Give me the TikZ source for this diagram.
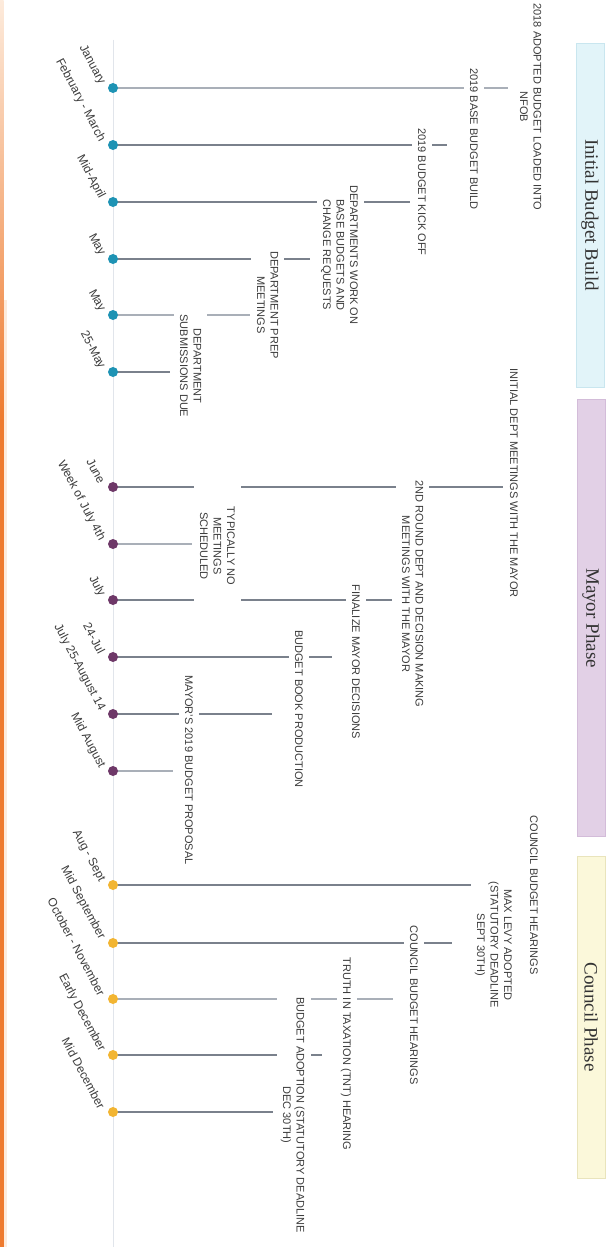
\documentclass[tikz,border=0pt]{standalone}
\usepackage{fontspec}
\setmainfont{Liberation Sans}
\newfontfamily\titlefont{Liberation Serif}
\usetikzlibrary{backgrounds}
\definecolor{teal1}{HTML}{1E93B4}
\definecolor{plum1}{HTML}{6E3868}
\definecolor{gold1}{HTML}{F2B532}
\definecolor{stemc}{HTML}{7A818C}
\definecolor{stemlt}{HTML}{A9AFB8}
\definecolor{txt}{HTML}{3C3C3C}
\definecolor{boxblue}{HTML}{E2F4F9}
\definecolor{boxblueb}{HTML}{C9E6EF}
\definecolor{boxplum}{HTML}{E2D0E6}
\definecolor{boxplumb}{HTML}{D3BCD9}
\definecolor{boxgold}{HTML}{FBF8DA}
\definecolor{boxgoldb}{HTML}{E9E4BC}
\definecolor{axisc}{HTML}{E1E5EB}
\definecolor{edgeor}{HTML}{EE7A2E}
\definecolor{edgepale}{HTML}{FDEBDC}
\begin{document}
\begin{tikzpicture}[x=1pt,y=-1pt,
  dot/.style={circle,inner sep=0pt,minimum size=10pt,fill=#1},
  date/.style={rotate=-62,anchor=east,inner sep=0pt,font=\fontsize{12}{14}\selectfont,text=txt},
  event/.style={rotate=-90,anchor=south,fill=white,align=center,inner xsep=4pt,inner ysep=6pt,text depth=0pt,font=\fontsize{11}{13.5}\selectfont,text=txt},
  stem/.style={draw=stemc,line width=1.4pt},
  stemlight/.style={draw=stemlt,line width=1.1pt},
  phasebox/.style={rotate=-90,font=\titlefont\fontsize{19}{22}\selectfont,text=black!80,minimum height=28pt,inner sep=0pt,line width=0.8pt}
]
\useasboundingbox (0,0) rectangle (613,1247);

% phase headers
\node[phasebox,fill=boxblue,draw=boxblueb,minimum width=344pt] (p1) at (590,215) {Initial Budget Build};
\node[phasebox,fill=boxplum,draw=boxplumb,minimum width=437pt] (p2) at (591,618) {Mayor Phase};
\node[phasebox,fill=boxgold,draw=boxgoldb,minimum width=322pt] (p3) at (591,1017) {Council Phase};

% left edge
\shade[top color=edgepale,bottom color=edgeor] (0,0) rectangle (3.5,420);
\fill[edgeor] (0,420) rectangle (3.5,1247);
\fill[edgepale] (3.5,300) rectangle (7,1247);

% dots
\node[dot=teal1] (d1) at (113,88) {};
\node[dot=teal1] (d2) at (113,145) {};
\node[dot=teal1] (d3) at (113,202) {};
\node[dot=teal1] (d4) at (113,259) {};
\node[dot=teal1] (d5) at (113,315) {};
\node[dot=teal1] (d6) at (113,372) {};
\node[dot=plum1] (d7) at (113,487) {};
\node[dot=plum1] (d8) at (113,544) {};
\node[dot=plum1] (d9) at (113,600) {};
\node[dot=plum1] (d10) at (113,657) {};
\node[dot=plum1] (d11) at (113,714) {};
\node[dot=plum1] (d12) at (113,771) {};
\node[dot=gold1] (d13) at (113,885) {};
\node[dot=gold1] (d14) at (113,943) {};
\node[dot=gold1] (d15) at (113,999) {};
\node[dot=gold1] (d16) at (113,1055) {};
\node[dot=gold1] (d17) at (113,1112) {};

% date labels
\node[date] (t1) at ([xshift=-11pt,yshift=4pt]d1.center) {January};
\node[date] (t2) at ([xshift=-11pt,yshift=4pt]d2.center) {February - March};
\node[date] (t3) at ([xshift=-11pt,yshift=4pt]d3.center) {Mid-April};
\node[date] (t4) at ([xshift=-11pt,yshift=4pt]d4.center) {May};
\node[date] (t5) at ([xshift=-11pt,yshift=4pt]d5.center) {May};
\node[date] (t6) at ([xshift=-11pt,yshift=4pt]d6.center) {25-May};
\node[date] (t7) at ([xshift=-11pt,yshift=4pt]d7.center) {June};
\node[date] (t8) at ([xshift=-11pt,yshift=4pt]d8.center) {Week of July 4th};
\node[date] (t9) at ([xshift=-11pt,yshift=4pt]d9.center) {July};
\node[date] (t10) at ([xshift=-11pt,yshift=4pt]d10.center) {24-Jul};
\node[date] (t11) at ([xshift=-11pt,yshift=4pt]d11.center) {July 25-August 14};
\node[date] (t12) at ([xshift=-11pt,yshift=4pt]d12.center) {Mid August};
\node[date] (t13) at ([xshift=-11pt,yshift=4pt]d13.center) {Aug - Sept};
\node[date] (t14) at ([xshift=-11pt,yshift=4pt]d14.center) {Mid September};
\node[date] (t15) at ([xshift=-11pt,yshift=4pt]d15.center) {October - November};
\node[date] (t16) at ([xshift=-11pt,yshift=4pt]d16.center) {Early December};
\node[date] (t17) at ([xshift=-11pt,yshift=4pt]d17.center) {Mid December};

% event labels
\node[event] (e1) at (514,107) {2018 ADOPTED BUDGET LOADED INTO\\NFOB};
\node[event] (e2) at (464,139) {2019 BASE BUDGET BUILD};
\node[event] (e3) at (412,192) {2019 BUDGET KICK OFF};
\node[event] (e4) at (317,255) {DEPARTMENTS WORK ON\\BASE BUDGETS AND\\CHANGE REQUESTS};
\node[event] (e5) at (251,305) {DEPARTMENT PREP\\MEETINGS};
\node[event] (e6) at (174,366) {DEPARTMENT\\SUBMISSIONS DUE};
\node[event] (m1) at (504,483) {INITIAL DEPT MEETINGS WITH THE MAYOR};
\node[event,minimum width=128pt] (m2) at (194,546) {TYPICALLY NO\\MEETINGS\\SCHEDULED};
\node[event] (m3) at (396,594) {2ND ROUND DEPT AND DECISION MAKING\\MEETINGS WITH THE MAYOR};
\node[event] (m4) at (346,662) {FINALIZE MAYOR DECISIONS};
\node[event] (m5) at (289,709) {BUDGET BOOK PRODUCTION};
\node[event] (m6) at (179,770) {MAYOR'S 2019 BUDGET PROPOSAL};
\node[event] (c1) at (524,895) {COUNCIL BUDGET HEARINGS};
\node[event] (c2) at (471,945) {MAX LEVY ADOPTED\\(STATUTORY DEADLINE\\SEPT 30TH)};
\node[event] (c3) at (404,1005) {COUNCIL BUDGET HEARINGS};
\node[event] (c4) at (337,1054) {TRUTH IN TAXATION (TNT) HEARING};
\node[event] (c5) at (277,1115) {BUDGET ADOPTION (STATUTORY DEADLINE\\DEC 30TH)};

\begin{pgfonlayer}{background}
\fill[white] (0,0) rectangle (613,1247);
\coordinate (axtop) at (113,40);
\coordinate (axbot) at (113,1247);
\draw[axisc,line width=1pt] (axtop) -- (axbot);
\draw[stemlight,shorten >=6pt] (d1.center) -- (d1 -| e1.south);
\draw[stem,shorten >=17pt] (d2.center) -- (d2 -| e2.south);
\draw[stem,shorten >=2pt] (d3.center) -- (d3 -| e3.south);
\draw[stem,shorten >=7pt] (d4.center) -- (d4 -| e4.south);
\draw[stemlight,shorten >=1pt] (d5.center) -- (d5 -| e5.south);
\draw[stem,shorten >=4pt] (d6.center) -- (d6 -| e6.south);
\draw[stem,shorten >=1pt] (d7.center) -- (d7 -| m1.south);
\draw[stemlight,shorten >=2pt] (d8.center) -- (d8 -| m2.south);
\draw[stem,shorten >=4pt] (d9.center) -- (d9 -| m3.south);
\draw[stem,shorten >=14pt] (d10.center) -- (d10 -| m4.south);
\draw[stem,shorten >=17pt] (d11.center) -- (d11 -| m5.south);
\draw[stemlight,shorten >=6pt] (d12.center) -- (d12 -| m6.south);
\draw[stem,shorten >=6pt] (d13.center) -- (d13 -| c1.south);
\draw[stem,shorten >=19pt] (d14.center) -- (d14 -| c2.south);
\draw[stemlight,shorten >=11pt] (d15.center) -- (d15 -| c3.south);
\draw[stem,shorten >=15pt] (d16.center) -- (d16 -| c4.south);
\draw[stem,shorten >=4pt] (d17.center) -- (d17 -| c5.south);
\end{pgfonlayer}
\end{tikzpicture}
\end{document}
